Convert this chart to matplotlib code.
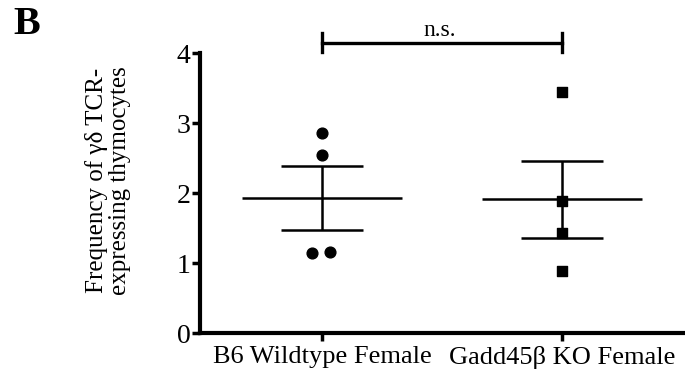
import matplotlib
matplotlib.use('Agg')
import matplotlib.pyplot as plt
import numpy as np

plt.rcParams['font.family'] = ['Liberation Serif', 'DejaVu Serif']

groups = ['B6 Wildtype Female', 'Gadd45\u03b2 KO Female']
wt_vals = [2.86, 2.54, 1.14, 1.16]
wt_jitter = [0.0, 0.0, -0.04, 0.035]
ko_vals = [3.44, 1.89, 1.43, 0.89]
ko_jitter = [0.0, 0.0, 0.0, 0.0]
means = [1.93, 1.91]
sem_hi = [2.39, 2.46]
sem_lo = [1.47, 1.36]

fig = plt.figure(figsize=(6.85, 3.77), dpi=100)
ax = fig.add_axes([0.292, 0.1167, 0.705, 0.7427])

ax.scatter(np.array(wt_jitter) + 0, wt_vals, marker='o', s=60, color='black', zorder=3)
ax.scatter(np.array(ko_jitter) + 1, ko_vals, marker='s', s=55, color='black', zorder=3)

for i in range(2):
    ax.hlines(means[i], i - 0.333, i + 0.333, color='black', lw=1.8)
    ax.hlines([sem_lo[i], sem_hi[i]], i - 0.17, i + 0.17, color='black', lw=1.8)
    ax.vlines(i, sem_lo[i], sem_hi[i], color='black', lw=1.8)

# significance bar
ax.plot([0, 1], [4.14, 4.14], color='black', lw=2.4, clip_on=False)
ax.plot([0, 0], [4.01, 4.28], color='black', lw=2.4, clip_on=False)
ax.plot([1, 1], [4.01, 4.28], color='black', lw=2.4, clip_on=False)
ax.text(0.49, 4.25, 'n.s.', ha='center', va='baseline', fontsize=17)

ax.set_xlim(-0.508, 1.504)
ax.set_ylim(0, 4)
ax.set_yticks([0, 1, 2, 3, 4])
ax.set_xticks([0, 1])
ax.set_xticklabels(groups)
ax.tick_params(labelsize=20, width=2.5, length=6, direction='out')
ax.tick_params(axis='x', labelsize=19, pad=3)
ax.tick_params(axis='y', pad=1)
for s in ['top', 'right']:
    ax.spines[s].set_visible(False)
for s in ['left', 'bottom']:
    ax.spines[s].set_linewidth(3)

ax.set_ylabel('Frequency of \u03b3\u03b4 TCR-\nexpressing thymocytes', fontsize=18, linespacing=1.05)
ax.yaxis.set_label_coords(-0.143, 0.545)

fig.text(0.019, 0.934, 'B', fontsize=29, fontweight='bold', va='center')

fig.savefig('out.png', dpi=100)
